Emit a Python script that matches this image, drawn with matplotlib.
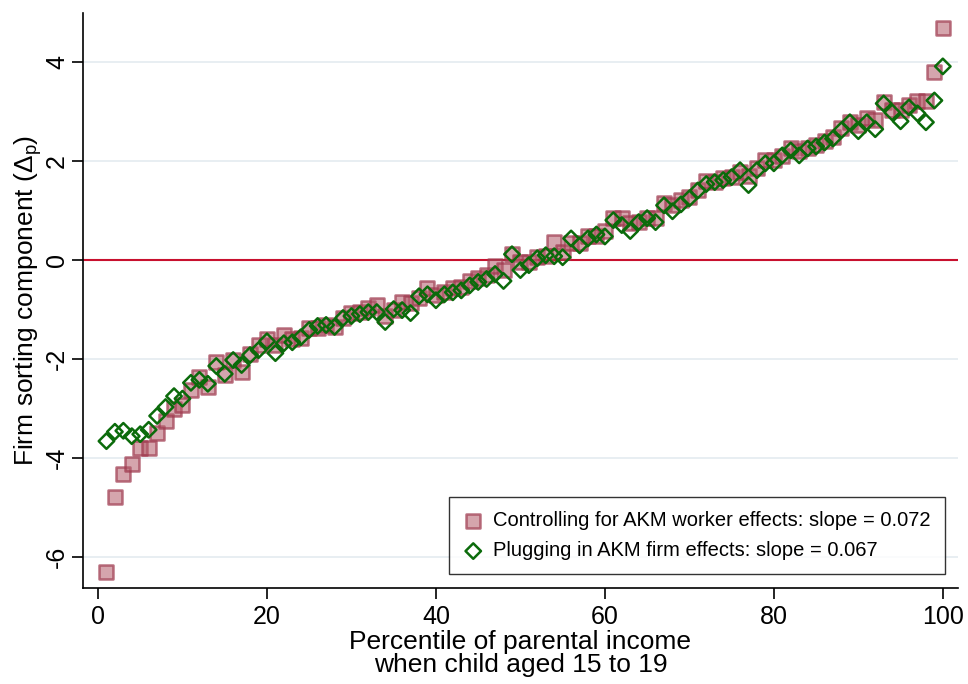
#!/usr/bin/env python

import numpy as np
import matplotlib
matplotlib.use('Agg')
import matplotlib.pyplot as plt

plt.rcParams['font.family'] = ['Liberation Sans', 'DejaVu Sans']
plt.rcParams['mathtext.fontset'] = 'custom'
plt.rcParams['mathtext.rm'] = 'Liberation Sans'
plt.rcParams['mathtext.it'] = 'Liberation Sans'
plt.rcParams['axes.unicode_minus'] = False

# percentile of parental income
pct = np.arange(1, 101)

# controlling for AKM worker effects
worker_ctrl = [
    -6.30, -4.79, -4.32, -4.12, -3.80, -3.80, -3.50, -3.25, -3.00, -2.92,
    -2.62, -2.37, -2.57, -2.06, -2.32, -2.02, -2.27, -1.90, -1.72, -1.60,
    -1.72, -1.52, -1.60, -1.58, -1.37, -1.37, -1.31, -1.35, -1.17, -1.07,
    -1.05, -0.97, -0.91, -1.13, -1.00, -0.85, -0.87, -0.77, -0.57, -0.70,
    -0.65, -0.57, -0.55, -0.43, -0.36, -0.30, -0.12, -0.20, 0.12, -0.04,
    -0.04, 0.06, 0.08, 0.36, 0.16, 0.34, 0.34, 0.48, 0.48, 0.60,
    0.85, 0.85, 0.75, 0.77, 0.85, 0.85, 1.15, 1.11, 1.21, 1.27,
    1.41, 1.60, 1.58, 1.66, 1.68, 1.78, 1.70, 1.86, 2.02, 2.02,
    2.10, 2.26, 2.20, 2.26, 2.32, 2.42, 2.50, 2.67, 2.79, 2.73,
    2.87, 2.83, 3.19, 3.03, 3.03, 3.13, 3.23, 3.23, 3.80, 4.69,
]

# plugging in AKM firm effects
firm_plug = [
    -3.66, -3.47, -3.45, -3.56, -3.52, -3.43, -3.15, -2.97, -2.75, -2.80,
    -2.48, -2.42, -2.50, -2.14, -2.30, -2.02, -2.12, -1.92, -1.82, -1.64,
    -1.88, -1.68, -1.66, -1.56, -1.41, -1.33, -1.31, -1.35, -1.17, -1.13,
    -1.09, -1.05, -1.05, -1.25, -0.99, -1.01, -1.07, -0.73, -0.69, -0.81,
    -0.69, -0.65, -0.61, -0.51, -0.44, -0.38, -0.28, -0.42, 0.12, -0.20,
    -0.10, 0.04, 0.10, 0.08, 0.06, 0.44, 0.30, 0.44, 0.52, 0.48,
    0.81, 0.71, 0.59, 0.77, 0.85, 0.77, 1.11, 0.99, 1.13, 1.25,
    1.41, 1.54, 1.58, 1.62, 1.68, 1.82, 1.52, 1.82, 1.96, 1.96,
    2.12, 2.22, 2.12, 2.26, 2.30, 2.38, 2.46, 2.63, 2.79, 2.61,
    2.79, 2.65, 3.17, 2.99, 2.81, 3.09, 2.97, 2.79, 3.23, 3.92,
]

label_a = 'Controlling for AKM worker effects: slope = 0.072'
label_b = 'Plugging in AKM firm effects: slope = 0.067'

fig = plt.figure(figsize=(9.68, 6.84), dpi=100)
ax = fig.add_axes([0.0857, 0.1404, 0.904, 0.8406])

for yv in [-6, -4, -2, 2, 4]:
    ax.axhline(yv, color='#e6edf1', lw=1.3, zorder=0)
ax.axhline(0, color='#c8102e', lw=1.5, zorder=1)

ax.scatter(pct, worker_ctrl, marker='s', s=95, facecolor=(0.70, 0.36, 0.42, 0.55),
           edgecolor=(0.62, 0.22, 0.30, 0.7), linewidth=1.8, zorder=2, label=label_a)
ax.scatter(pct, firm_plug, marker='D', s=62, facecolor='none',
           edgecolor='#0b6b0b', linewidth=1.8, zorder=3, label=label_b)

ax.set_xlim(-1.78, 101.8)
ax.set_ylim(-6.63, 5.0)
ax.set_xticks([0, 20, 40, 60, 80, 100])
ax.set_yticks([-6, -4, -2, 0, 2, 4])
ax.tick_params(axis='both', direction='out', length=8, width=1.2, labelsize=18, colors='black')
ax.tick_params(axis='y', pad=2)
ax.tick_params(axis='x', pad=4)
plt.setp(ax.get_yticklabels(), rotation=90, va='center')
for side in ['top', 'right']:
    ax.spines[side].set_visible(False)
for side in ['left', 'bottom']:
    ax.spines[side].set_linewidth(1.2)

ax.set_xlabel('Percentile of parental income\nwhen child aged 15 to 19', fontsize=19, labelpad=1,
              linespacing=0.95)
ax.set_ylabel('Firm sorting component ($\\Delta_{\\mathrm{p}}$)', fontsize=19, labelpad=1)

leg = ax.legend(loc='lower right', bbox_to_anchor=(0.992, 0.013), fontsize=14.5,
                frameon=True, fancybox=False, edgecolor='black', borderpad=0.7,
                handletextpad=0.5, handlelength=1.0, labelspacing=0.55, borderaxespad=0.3)
leg.get_frame().set_linewidth(1.0)

fig.savefig('out.png', dpi=100)
